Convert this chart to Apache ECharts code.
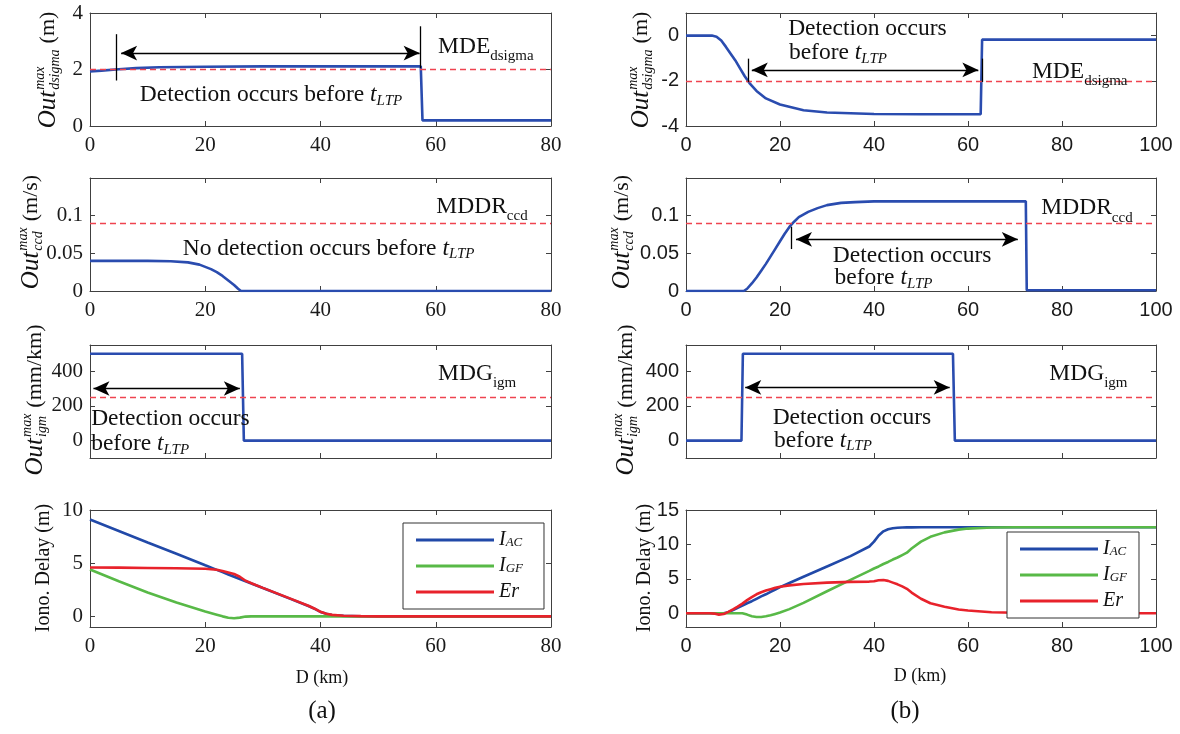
<!DOCTYPE html>
<html>
<head>
<meta charset="utf-8">
<script src="https://cdn.jsdelivr.net/npm/echarts@6/dist/echarts.min.js"></script>
<style>html,body{margin:0;background:#fff}#chart{width:1180px;height:734px}</style>
</head>
<body>
<div id="chart"></div>
<script>
// ---------- (a) left column, D in km 0..80 ----------
let aDsigmaX = [0, 2, 5, 8, 12, 20, 30, 40, 50, 57.4, 57.7, 80];
let aDsigmaY = [1.93, 1.96, 2.01, 2.05, 2.08, 2.1, 2.11, 2.11, 2.11, 2.11, 0.2, 0.2];

let aCcdX = [0, 10, 14, 17, 19, 20, 21, 22, 23, 24, 25, 25.7, 26.2, 80];
let aCcdY = [0.04, 0.04, 0.0395, 0.038, 0.035, 0.032, 0.029, 0.025, 0.02, 0.014, 0.008, 0.003, 0, 0];

let aIgmX = [0, 26.4, 26.7, 80];
let aIgmY = [500, 500, 0, 0];

let aIonoX = [0, 5, 10, 15, 20, 22, 23, 24, 25, 26, 27, 28, 30, 35, 38, 39, 40, 41, 42, 44, 47, 50, 80];
let aIAC = [9.1, 8.03, 6.95, 5.88, 4.8, 4.37, 4.16, 3.94, 3.73, 3.51, 3.3, 3.09, 2.66, 1.6, 0.95, 0.7, 0.42, 0.24, 0.13, 0.05, 0.01, 0, 0];
let aIGF = [4.4, 3.3, 2.25, 1.3, 0.45, 0.15, 0, -0.13, -0.17, -0.12, -0.02, 0, 0, 0, 0, 0, 0, 0, 0, 0, 0, 0, 0];
let aEr = [4.6, 4.58, 4.55, 4.52, 4.47, 4.38, 4.26, 4.12, 3.98, 3.72, 3.35, 3.12, 2.68, 1.62, 0.97, 0.72, 0.43, 0.25, 0.14, 0.06, 0.02, 0, 0];

// ---------- (b) right column, D in km 0..100 ----------
let bDsigmaX = [0, 5.5, 6.5, 7.5, 8.5, 9.5, 10.5, 11.5, 12.5, 13.5, 15, 17, 20, 25, 30, 40, 50, 62.7, 63, 100];
let bDsigmaY = [0, 0, -0.05, -0.22, -0.5, -0.8, -1.1, -1.45, -1.8, -2.1, -2.45, -2.78, -3.05, -3.3, -3.4, -3.47, -3.48, -3.48, -0.18, -0.18];

let bCcdX = [0, 12.3, 13, 14, 15, 16, 17, 18, 19, 20, 21, 22, 23, 24, 26, 28, 30, 33, 36, 40, 72.3, 72.5, 100];
let bCcdY = [0, 0, 0.003, 0.01, 0.018, 0.027, 0.036, 0.046, 0.056, 0.066, 0.076, 0.085, 0.092, 0.098, 0.105, 0.11, 0.114, 0.117, 0.118, 0.119, 0.119, 0.001, 0.001];

let bIgmX = [0, 11.8, 12.1, 56.8, 57.2, 100];
let bIgmY = [0, 0, 500, 500, 0, 0];

let bIonoX = [0, 5, 6, 7, 8, 9, 10, 11, 12, 13, 14, 15, 16, 17, 18, 19, 20, 22, 25, 30, 35, 39, 40, 41, 42, 43, 44, 45, 46, 47, 48, 50, 52, 55, 58, 60, 65, 70, 80, 100];
let bIAC = [0, 0, 0, 0, 0, 0.15, 0.45, 0.8, 1.1, 1.45, 1.75, 2.1, 2.45, 2.75, 3.1, 3.45, 3.8, 4.4, 5.3, 6.8, 8.3, 9.7, 10.4, 11.3, 11.9, 12.2, 12.35, 12.42, 12.45, 12.47, 12.48, 12.5, 12.5, 12.5, 12.5, 12.5, 12.5, 12.5, 12.5, 12.5];
let bIGF = [0, 0, 0, 0, 0, 0, 0, 0, 0, -0.2, -0.45, -0.55, -0.55, -0.45, -0.3, -0.1, 0.1, 0.6, 1.5, 3.2, 4.85, 6.15, 6.5, 6.8, 7.15, 7.45, 7.8, 8.1, 8.45, 8.8, 9.4, 10.4, 11.1, 11.75, 12.15, 12.3, 12.45, 12.5, 12.5, 12.5];
let bEr = [0, 0, -0.05, -0.2, -0.12, 0.2, 0.55, 0.95, 1.4, 1.9, 2.35, 2.75, 3.05, 3.3, 3.5, 3.7, 3.85, 4.05, 4.25, 4.45, 4.55, 4.6, 4.65, 4.8, 4.82, 4.7, 4.45, 4.2, 3.9, 3.55, 3.0, 2.1, 1.45, 0.95, 0.55, 0.4, 0.15, 0.06, 0.01, 0];

// detection thresholds (red dashed)
let aThresholds = [2.0, 0.085, 250];
let bThresholds = [-2, 0.085, 250];

let yTicksA = [[0, 2, 4], [0, 0.05, 0.1], [0, 200, 400], [0, 5, 10]];
let yTicksB = [[-4, -2, 0], [0, 0.05, 0.1], [0, 200, 400], [0, 5, 10, 15]];

const SERIF = '"Liberation Serif", "Times New Roman", serif';
const SANS = '"Liberation Sans", Arial, sans-serif';
const BLUE = '#2a4caf';
const BLUE4 = '#2149a8';
const GREEN = '#58b947';
const RED = '#e8222b';
const DASH = '#ef4450';
const FRAME = '#404040';

let chartDom = document.getElementById('chart');
let chart = echarts.init(chartDom);

// panel boxes (pixels) and axis ranges
const rowTop = [13, 178, 345, 510];
const rowH = [113, 113, 113, 117];
const yRangeA = [[0, 4], [0, 0.15], [-100, 550], [-1, 10]];
const yRangeB = [[-4, 1], [0, 0.15], [-100, 550], [-2, 15]];
let panels = [];
for (let r = 0; r < 4; r++) {
  panels.push({ left: 90, top: rowTop[r], w: 461, h: rowH[r], x: [0, 80], y: yRangeA[r], ticks: yTicksA[r], font: SERIF, size: 21, xLab: r !== 2 });
}
for (let r = 0; r < 4; r++) {
  panels.push({ left: 686, top: rowTop[r], w: 470, h: rowH[r], x: [0, 100], y: yRangeB[r], ticks: yTicksB[r], font: SANS, size: 20, xLab: r !== 2 });
}

function toPx(p, x, y) {
  return [p.left + (x - p.x[0]) / (p.x[1] - p.x[0]) * p.w,
          p.top + (p.y[1] - y) / (p.y[1] - p.y[0]) * p.h];
}

let grid = [], xAxis = [], yAxis = [];
panels.forEach(function (p, i) {
  grid.push({ left: p.left, top: p.top, width: p.w, height: p.h });
  const line = { show: true, onZero: false, lineStyle: { color: FRAME, width: 1 } };
  const tick = { inside: true, length: 5, lineStyle: { color: FRAME } };
  const lab = { fontFamily: p.font, fontSize: p.size, color: '#1a1a1a' };
  xAxis.push({ type: 'value', gridIndex: i, position: 'bottom', min: p.x[0], max: p.x[1], interval: 20,
    axisLine: line, axisTick: tick, splitLine: { show: false },
    axisLabel: Object.assign({ show: p.xLab, margin: 9 }, lab) });
  xAxis.push({ type: 'value', gridIndex: i, position: 'top', min: p.x[0], max: p.x[1], interval: 20,
    axisLine: line, axisTick: tick, splitLine: { show: false }, axisLabel: { show: false } });
  yAxis.push({ type: 'value', gridIndex: i, position: 'left', min: p.y[0], max: p.y[1],
    axisLine: line, axisTick: Object.assign({ customValues: p.ticks }, tick), splitLine: { show: false },
    axisLabel: Object.assign({ customValues: p.ticks, margin: 7 }, lab) });
  yAxis.push({ type: 'value', gridIndex: i, position: 'right', min: p.y[0], max: p.y[1],
    axisLine: line, axisTick: Object.assign({ customValues: p.ticks }, tick), splitLine: { show: false },
    axisLabel: { show: false } });
});

function pairs(xs, ys) {
  return xs.map(function (x, i) { return [x, ys[i]]; });
}

// red dashed threshold, black bars and double arrows
function marks(thr, bars, arrows) {
  let data = [{ yAxis: thr, lineStyle: { color: DASH, type: [6, 4], width: 1.3 } }];
  bars.forEach(function (b) {
    data.push([{ coord: [b[0], b[1]], symbol: 'none' }, { coord: [b[0], b[2]], symbol: 'none' }]);
  });
  arrows.forEach(function (a) {
    data.push([{ coord: [a[0], a[2]], symbol: 'arrow', symbolSize: [11, 16] },
               { coord: [a[1], a[2]], symbol: 'arrow', symbolSize: [11, 16] }]);
  });
  return { silent: true, symbol: 'none', animation: false, label: { show: false },
    lineStyle: { color: '#000', type: 'solid', width: 1.3 }, emphasis: { disabled: true }, data: data };
}

function series(gi, name, xs, ys, color, mark, width) {
  let s = { type: 'line', name: name, xAxisIndex: gi * 2, yAxisIndex: gi * 2, data: pairs(xs, ys),
    showSymbol: false, symbol: 'none', animation: false, silent: true, color: color,
    itemStyle: { color: color }, lineStyle: { color: color, width: width || 2.6 } };
  if (mark) s.markLine = mark;
  return s;
}

let seriesList = [
  series(0, 'a1', aDsigmaX, aDsigmaY, BLUE, marks(aThresholds[0], [[4.5, 3.25, 1.61], [57.3, 3.53, 2.05]], [[5.4, 57.2, 2.58]])),
  series(1, 'a2', aCcdX, aCcdY, BLUE, marks(aThresholds[1], [], [])),
  series(2, 'a3', aIgmX, aIgmY, BLUE, marks(aThresholds[2], [], [[0.6, 26.0, 300]])),
  series(3, 'I_AC', aIonoX, aIAC, BLUE4),
  series(3, 'I_GF', aIonoX, aIGF, GREEN),
  series(3, 'Er', aIonoX, aEr, RED),
  series(4, 'b1', bDsigmaX, bDsigmaY, BLUE, marks(bThresholds[0], [[13.2, -1.02, -2.05], [63.0, -1.02, -2.05]], [[14.0, 62.2, -1.52]])),
  series(5, 'b2', bCcdX, bCcdY, BLUE, marks(bThresholds[1], [[22.3, 0.0853, 0.0557]], [[23.4, 70.6, 0.0686]])),
  series(6, 'b3', bIgmX, bIgmY, BLUE, marks(bThresholds[2], [], [[12.6, 56.1, 306]])),
  series(7, 'I_AC', bIonoX, bIAC, BLUE4),
  series(7, 'I_GF', bIonoX, bIGF, GREEN),
  series(7, 'Er', bIonoX, bEr, RED)
];

// ---------- text ----------
const RICH = {
  n: { fontFamily: SERIF, fontSize: 23.5, lineHeight: 27, fill: '#111' },
  t: { fontFamily: SERIF, fontStyle: 'italic', fontSize: 23.5, lineHeight: 27, fill: '#111' },
  s: { fontFamily: SERIF, fontStyle: 'italic', fontSize: 15, lineHeight: 12, verticalAlign: 'bottom', fill: '#111' },
  m: { fontFamily: SERIF, fontSize: 23.5, lineHeight: 34, fill: '#111' },
  ms: { fontFamily: SERIF, fontSize: 15, lineHeight: 14, verticalAlign: 'bottom', fill: '#111' }
};

function note(pi, x, y, text, align) {
  const pt = toPx(panels[pi], x, y);
  return { type: 'text', x: pt[0], y: pt[1], z: 60, silent: true,
    style: { text: text, rich: RICH, fill: '#111', font: '23px ' + SERIF,
      align: align, verticalAlign: 'middle', textAlign: align, textVerticalAlign: 'middle' } };
}

const LTP = '{t|t}{s|LTP}';
let notes = [
  note(0, 31.4, 1.1, '{n|Detection occurs before }' + LTP, 'center'),
  note(0, 60.4, 2.82, '{m|MDE}{ms|dsigma}', 'left'),
  note(1, 60.1, 0.112, '{m|MDDR}{ms|ccd}', 'left'),
  note(1, 41.4, 0.0565, '{n|No detection occurs before }' + LTP, 'center'),
  note(2, 60.4, 387, '{m|MDG}{ms|igm}', 'left'),
  note(2, 0.2, 126, '{n|Detection occurs}', 'left'),
  note(2, 0.2, -19, '{n|before }' + LTP, 'left'),
  note(4, 38.6, 0.32, '{n|Detection occurs}', 'center'),
  note(4, 21.9, -0.76, '{n|before }' + LTP, 'left'),
  note(4, 73.6, -1.6, '{m|MDE}{ms|dsigma}', 'left'),
  note(5, 75.6, 0.11, '{m|MDDR}{ms|ccd}', 'left'),
  note(5, 48.1, 0.047, '{n|Detection occurs}', 'center'),
  note(5, 31.6, 0.017, '{n|before }' + LTP, 'left'),
  note(6, 77.3, 385, '{m|MDG}{ms|igm}', 'left'),
  note(6, 35.3, 133, '{n|Detection occurs}', 'center'),
  note(6, 18.7, 1, '{n|before }' + LTP, 'left')
];

const measure = document.createElement('canvas').getContext('2d');
function textW(txt, font) { measure.font = font; return measure.measureText(txt).width; }

function piece(x, y, text, font) {
  return { type: 'text', x: x, y: y, silent: true,
    style: { text: text, font: font, fill: '#111', align: 'left', verticalAlign: 'middle', textAlign: 'left', textVerticalAlign: 'middle' } };
}

// rotated "Out^max_sub (unit)" label
function outLabel(cx, cy, sub, unit) {
  const fO = 'italic 25px ' + SERIF, fS = 'italic 14px ' + SERIF, fU = '22px ' + SERIF;
  const wO = textW('Out', fO), wS = Math.max(textW(sub, fS), textW('max', fS)), wU = textW(unit, fU);
  const x0 = -(wO + 1 + wS + 6 + wU) / 2;
  return { type: 'group', x: cx, y: cy, rotation: Math.PI / 2, silent: true, children: [
    piece(x0, 0, 'Out', fO),
    piece(x0 + wO + 1, -8, 'max', fS),
    piece(x0 + wO + 1, 7, sub, fS),
    piece(x0 + wO + 1 + wS + 6, 0, unit, fU)
  ] };
}

function plain(x, y, text, size, rot) {
  return { type: 'text', x: x, y: y, rotation: rot || 0, silent: true,
    style: { text: text, font: size + 'px ' + SERIF, fill: '#111', align: 'center', verticalAlign: 'middle', textAlign: 'center', textVerticalAlign: 'middle' } };
}

let labels = [
  outLabel(48, 70, 'dsigma', '(m)'),
  outLabel(31, 232, 'ccd', '(m/s)'),
  outLabel(35, 400, 'igm', '(mm/km)'),
  plain(44, 568, 'Iono. Delay (m)', 20, Math.PI / 2),
  outLabel(641, 70, 'dsigma', '(m)'),
  outLabel(622, 232, 'ccd', '(m/s)'),
  outLabel(626, 400, 'igm', '(mm/km)'),
  plain(645, 568, 'Iono. Delay (m)', 20, Math.PI / 2),
  plain(322, 678, 'D (km)', 18),
  plain(920, 676, 'D (km)', 18),
  plain(322, 711, '(a)', 25),
  plain(905, 711, '(b)', 25)
];

const legendNames = { I_AC: '{i|I}{s|AC}', I_GF: '{i|I}{s|GF}', Er: '{i|Er}' };
function legendAt(left, top, padRight) {
  return { data: ['I_AC', 'I_GF', 'Er'], orient: 'vertical', left: left, top: top, selectedMode: false,
    icon: 'rect', itemWidth: 78, itemHeight: 3, itemGap: 6, padding: [7, padRight, 7, 13],
    borderColor: '#333', borderWidth: 1, backgroundColor: '#fff',
    formatter: function (name) { return legendNames[name]; },
    textStyle: { rich: {
      i: { fontFamily: SERIF, fontStyle: 'italic', fontSize: 20, lineHeight: 18, color: '#111' },
      s: { fontFamily: SERIF, fontStyle: 'italic', fontSize: 13, lineHeight: 8, verticalAlign: 'bottom', color: '#111' }
    } } };
}

let option = {
  backgroundColor: '#fff',
  animation: false,
  grid: grid,
  xAxis: xAxis,
  yAxis: yAxis,
  legend: [legendAt(403, 523, 21), legendAt(1007, 532, 12)],
  series: seriesList,
  graphic: notes.concat(labels)
};

option && chart.setOption(option);
</script>
</body>
</html>
